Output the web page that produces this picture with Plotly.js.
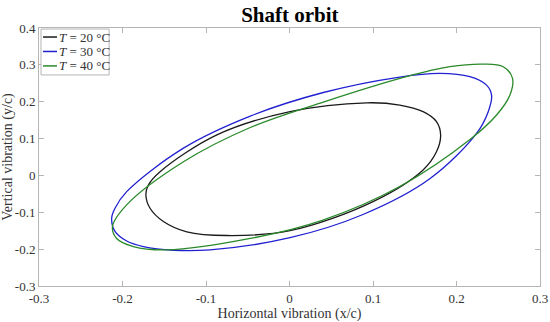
<!DOCTYPE html>
<html>
<head>
<meta charset="utf-8">
<script src="https://cdn.plot.ly/plotly-3.0.1.min.js"></script>
<style>html,body{margin:0;padding:0;background:#fff;}#chart{width:550px;height:322px;}</style>
</head>
<body>
<div id="chart"></div>
<script>
// Orbit points (x/c, y/c)
const seriesNames = ["<i>T</i> = 20 °C", "<i>T</i> = 30 °C", "<i>T</i> = 40 °C"];

const x20 = [0.0925, 0.132, 0.160, 0.176, 0.181, 0.176, 0.160, 0.100, 0.0006, -0.075, -0.123, -0.151, -0.167, -0.172, -0.169, -0.155, -0.087, 0.0006, 0.0925];
const y20 = [0.197, 0.191, 0.173, 0.146, 0.110, 0.064, 0.015, -0.071, -0.150, -0.163, -0.153, -0.125, -0.089, -0.053, -0.026, 0.010, 0.110, 0.173, 0.197];

const x30 = [0.180, 0.216, 0.236, 0.242, 0.238, 0.224, 0.168, 0.088, 0.0006, -0.095, -0.139, -0.175, -0.195, -0.209, -0.213, -0.209, -0.195, -0.127, -0.047, 0.0405, 0.132, 0.180];
const y30 = [0.277, 0.268, 0.245, 0.218, 0.173, 0.114, -0.009, -0.106, -0.169, -0.202, -0.203, -0.193, -0.178, -0.152, -0.116, -0.089, -0.044, 0.074, 0.161, 0.225, 0.267, 0.277];

const x40 = [0.232, 0.256, 0.267, 0.264, 0.248, 0.218, 0.132, 0.040, -0.047, -0.147, -0.187, -0.207, -0.212, -0.195, -0.127, -0.047, 0.0405, 0.140, 0.192, 0.232];
const y40 = [0.302, 0.295, 0.264, 0.218, 0.164, 0.101, -0.030, -0.121, -0.171, -0.202, -0.193, -0.171, -0.139, -0.080, 0.037, 0.130, 0.199, 0.268, 0.295, 0.302];

const colors = ["#1a1a1a", "#2020d0", "#2a8a2a"];

const xs = [x20, x30, x40];
const ys = [y20, y30, y40];

const traces = xs.map((xv, i) => ({
  x: xv, y: ys[i], type: "scatter", mode: "lines", name: seriesNames[i],
  showlegend: false,
  line: {color: colors[i], width: 1.3, shape: "spline", smoothing: 1}
}));

const serif = "Liberation Serif, Times New Roman, serif";
const axisCommon = {
  showgrid: false, zeroline: false, showline: true, mirror: "ticks",
  linecolor: "#b5b5b5", linewidth: 1, ticks: "inside", ticklen: 5, tickcolor: "#b5b5b5",
  tickfont: {family: serif, size: 13, color: "#333"}
};

// Compact legend (MATLAB style) built from layout shapes and annotations
const legendRowsY = [0.965, 0.909, 0.853];
const shapes = [{type: "rect", xref: "paper", yref: "paper", x0: 0.004, x1: 0.14, y0: 0.818, y1: 0.996,
  line: {color: "#b5b5b5", width: 1}, fillcolor: "#fff", layer: "above"}];
const annotations = [];
seriesNames.forEach((nm, i) => {
  shapes.push({type: "line", xref: "paper", yref: "paper", x0: 0.008, x1: 0.036,
    y0: legendRowsY[i], y1: legendRowsY[i], line: {color: colors[i], width: 1.5}, layer: "above"});
  annotations.push({xref: "paper", yref: "paper", x: 0.036, y: legendRowsY[i], xanchor: "left", yanchor: "middle",
    text: nm, showarrow: false, font: {family: serif, size: 13, color: "#333"}});
});

const layout = {
  width: 550, height: 322,
  margin: {l: 39, r: 10, t: 28, b: 36},
  paper_bgcolor: "#fff", plot_bgcolor: "#fff",
  title: {text: "<b>Shaft orbit</b>", font: {family: serif, size: 21, color: "#000"}, x: 0.527, xanchor: "center", y: 0.955, yanchor: "middle"},
  xaxis: Object.assign({}, axisCommon, {
    range: [-0.3, 0.3], tickvals: [-0.3, -0.2, -0.1, 0, 0.1, 0.2, 0.3],
    ticktext: ["-0.3", "-0.2", "-0.1", "0", "0.1", "0.2", "0.3"],
    title: {text: "Horizontal vibration (x/c)", font: {family: serif, size: 14, color: "#333"}, standoff: 2}
  }),
  yaxis: Object.assign({}, axisCommon, {
    range: [-0.3, 0.4], tickvals: [-0.3, -0.2, -0.1, 0, 0.1, 0.2, 0.3, 0.4],
    ticktext: ["-0.3", "-0.2", "-0.1", "0", "0.1", "0.2", "0.3", "0.4"],
    title: {text: "Vertical vibration (y/c)", font: {family: serif, size: 14, color: "#333"}, standoff: 4}
  }),
  showlegend: false,
  shapes: shapes,
  annotations: annotations
};

Plotly.newPlot("chart", traces, layout, {displayModeBar: false, staticPlot: true});
</script>
</body>
</html>
